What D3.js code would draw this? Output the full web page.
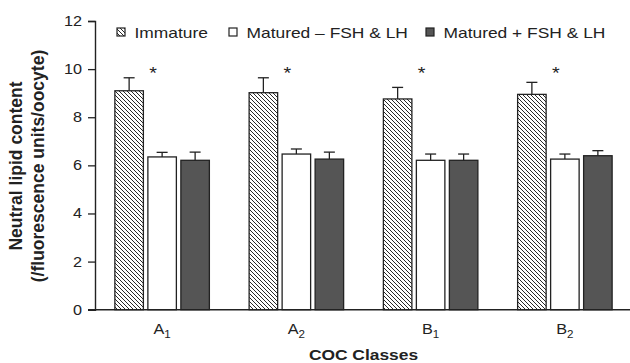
<!DOCTYPE html>
<html>
<head>
<meta charset="utf-8">
<script src="https://cdn.jsdelivr.net/npm/d3@7"></script>
<style>
  body { margin: 0; background: #fff; }
  svg { display: block; font-family: "Liberation Sans", Arial, sans-serif; }
</style>
</head>
<body>
<div id="chart"></div>
<script>
// COC classes (letter + subscript)
const classes = ["A1", "A2", "B1", "B2"];
const classLetters = ["A", "A", "B", "B"];
const classSubs = ["1", "2", "1", "2"];

const series = ["Immature", "Matured \u2013 FSH & LH", "Matured + FSH & LH"];

// mean neutral lipid content, per class
const immature = [9.10, 9.02, 8.76, 8.95];
const maturedMinus = [6.35, 6.47, 6.21, 6.26];
const maturedPlus = [6.21, 6.26, 6.21, 6.40];

// upper error (SEM) per class
const immatureErr = [0.54, 0.62, 0.48, 0.50];
const maturedMinusErr = [0.19, 0.21, 0.26, 0.21];
const maturedPlusErr = [0.34, 0.29, 0.26, 0.21];

const significant = [true, true, true, true];
const yTicks = [0, 2, 4, 6, 8, 10, 12];

const width = 630, height = 363;
const sx = 1.16; // glyphs in the figure are a bit wider than Arial

const values = [immature, maturedMinus, maturedPlus];
const errors = [immatureErr, maturedMinusErr, maturedPlusErr];
const rows = classes.flatMap((c, i) => series.map((s, j) => ({
  cls: c, series: s, j, value: values[j][i], err: errors[j][i]
})));

const svg = d3.select("#chart").append("svg")
  .attr("width", width)
  .attr("height", height);

const defs = svg.append("defs");
defs.append("pattern")
    .attr("id", "hatch")
    .attr("patternUnits", "userSpaceOnUse")
    .attr("width", 4)
    .attr("height", 4)
  .append("path")
    .attr("d", "M-1,-1L5,5M-1,3L1,5M3,-1L5,1")
    .attr("stroke", "#111")
    .attr("stroke-width", 0.9);

const fills = ["url(#hatch)", "#fff", "#555"];

const x0 = d3.scaleBand().domain(classes).range([95, 632]);
const x1 = d3.scaleBand().domain(series).range([0, 94.5]).paddingInner(0.136);
const groupOffset = (x0.bandwidth() - 94.5) / 2;
const y = d3.scaleLinear().domain([0, 12]).range([309.7, 21]);

// scaled text helper
function label(g, x, yy, txt, opts = {}) {
  const t = g.append("g")
      .attr("transform", `translate(${x},${yy}) scale(${sx},1)`)
    .append("text")
      .attr("text-anchor", opts.anchor || "start")
      .attr("font-size", opts.size || 14)
      .attr("font-weight", opts.weight || "normal")
      .attr("fill", "#222")
      .text(txt);
  return t;
}

// bars
const bars = svg.append("g");
bars.selectAll("rect")
  .data(rows)
  .join("rect")
    .attr("x", d => x0(d.cls) + groupOffset + x1(d.series))
    .attr("y", d => y(d.value))
    .attr("width", x1.bandwidth())
    .attr("height", d => y(0) - y(d.value))
    .attr("fill", d => fills[d.j])
    .attr("stroke", "#222")
    .attr("stroke-width", 1.3);

// error bars (upper only)
const eb = svg.append("g").attr("stroke", "#222").attr("stroke-width", 1.3);
rows.forEach(d => {
  const cx = x0(d.cls) + groupOffset + x1(d.series) + x1.bandwidth() / 2;
  eb.append("line")
    .attr("x1", cx).attr("x2", cx)
    .attr("y1", y(d.value)).attr("y2", y(d.value + d.err));
  eb.append("line")
    .attr("x1", cx - 5.5).attr("x2", cx + 5.5)
    .attr("y1", y(d.value + d.err)).attr("y2", y(d.value + d.err));
});

// asterisks
const stars = svg.append("g");
classes.forEach((c, i) => {
  if (!significant[i]) return;
  label(stars, x0(c) + x0.bandwidth() / 2 - 9, y(10) + 10, "*", {anchor: "middle", size: 17});
});

// y axis
const yAxisG = svg.append("g")
    .attr("transform", `translate(${x0.range()[0]},0)`)
    .call(d3.axisLeft(y).tickValues(yTicks).tickSize(7).tickSizeOuter(7).tickFormat(""));
yAxisG.select(".domain").attr("stroke", "#222").attr("stroke-width", 1.4);
yAxisG.selectAll(".tick line").attr("stroke", "#222").attr("stroke-width", 1.3);
yTicks.forEach(v => label(svg, 82, y(v) + 5, d3.format("d")(v), {anchor: "end", size: 14}));

// x axis line
svg.append("line")
  .attr("x1", 88).attr("x2", width)
  .attr("y1", y(0)).attr("y2", y(0))
  .attr("stroke", "#222").attr("stroke-width", 1.6);

// x labels with subscript
classes.forEach((c, i) => {
  const cx = x0(c) + x0.bandwidth() / 2;
  const t = label(svg, cx, 333.5, classLetters[i], {anchor: "middle", size: 14});
  t.append("tspan")
    .attr("font-size", 10)
    .attr("dy", 4)
    .text(classSubs[i]);
});

label(svg, (x0.range()[0] + x0.range()[1]) / 2, 360, "COC Classes", {anchor: "middle", size: 15, weight: "bold"});

// y title
const yTitle = svg.append("text")
    .attr("transform", "translate(22,166) rotate(-90)")
    .attr("text-anchor", "middle")
    .attr("font-size", 17.5)
    .attr("font-weight", "bold")
    .attr("fill", "#222");
yTitle.append("tspan").attr("x", 0).attr("y", 0).text("Neutral lipid content");
yTitle.append("tspan").attr("x", 0).attr("y", 22).text("(/fluorescence units/oocyte)");

// legend
const legendX = [117, 229, 426];
const legend = svg.append("g");
series.forEach((s, j) => {
  legend.append("rect")
    .attr("x", legendX[j]).attr("y", 28)
    .attr("width", 8).attr("height", 8)
    .attr("fill", fills[j])
    .attr("stroke", "#222")
    .attr("stroke-width", 1.2);
  label(legend, legendX[j] + 17.5, 38, s, {size: 15});
});
</script>
</body>
</html>
